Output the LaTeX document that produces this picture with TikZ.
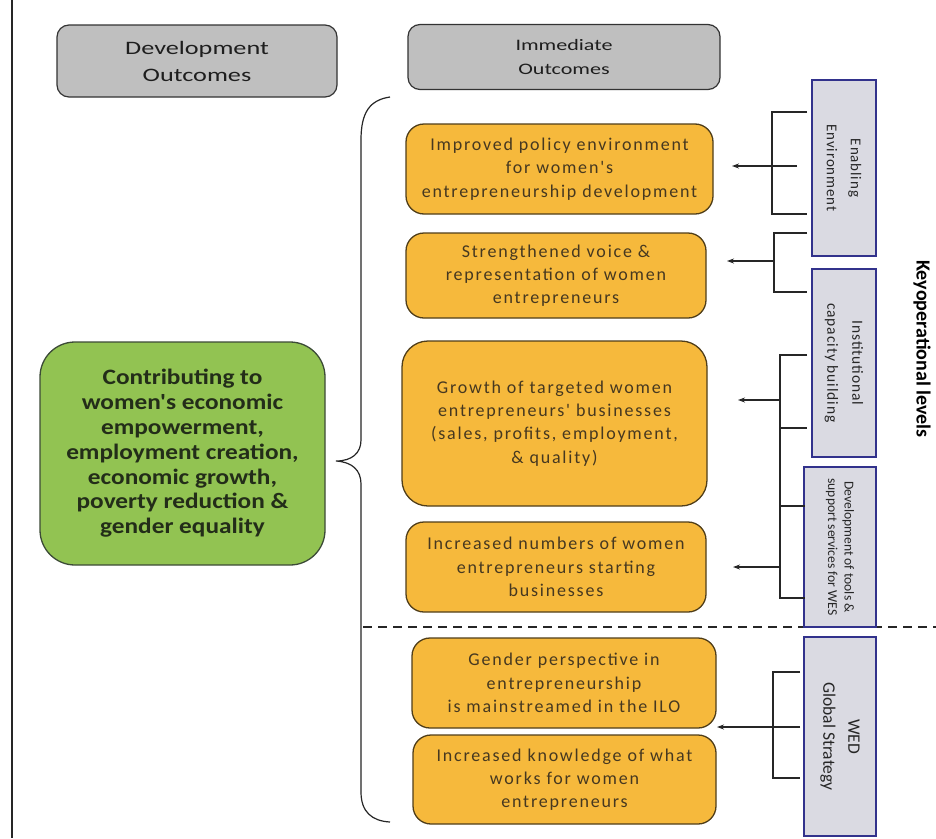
\documentclass[tikz,border=0pt]{standalone}
\usepackage{fontspec}
\setmainfont{Carlito}
\newfontfamily\hdrf[FakeStretch=1.38]{Carlito}
\newfontfamily\ofont[LetterSpace=10]{Carlito}
\newfontfamily\bfont[LetterSpace=6]{Carlito}
\newfontfamily\gfont[FakeStretch=1.15]{Carlito}
\usetikzlibrary{arrows.meta}
\definecolor{ofill}{RGB}{246,185,60}
\definecolor{odraw}{RGB}{80,62,25}
\definecolor{otext}{RGB}{70,56,32}
\definecolor{gfill}{RGB}{146,195,82}
\definecolor{gdraw}{RGB}{60,75,55}
\definecolor{gtext}{RGB}{35,45,25}
\definecolor{bfill}{RGB}{218,218,226}
\definecolor{bdraw}{RGB}{50,50,140}
\definecolor{htext}{RGB}{30,30,30}
\begin{document}
\begin{tikzpicture}[x=1pt,y=-1pt,
  hdr/.style={draw=black!80, line width=1.2pt, fill=gray!50, rounded corners=12pt, inner sep=0pt, align=center, text=htext},
  obox/.style={draw=odraw, line width=1.3pt, fill=ofill, rounded corners=18pt, inner sep=0pt, align=center, text=otext, font=\ofont\fontsize{18}{23.3}\selectfont},
  gbox/.style={draw=gdraw, line width=1.3pt, fill=gfill, rounded corners=35pt, inner sep=0pt, align=center, text=gtext, font=\gfont\bfseries\fontsize{22}{24.8}\selectfont},
  bbox/.style={draw=bdraw, line width=1.3pt, fill=bfill, inner sep=0pt},
  btext/.style={rotate=-90, align=center, text=black!85, inner sep=0pt},
  link/.style={line width=1.2pt, black!85},
  arr/.style={link, -{Stealth[length=7pt,width=5pt]}}
]
\useasboundingbox (0,0) rectangle (936,838);
\fill[white] (0,0) rectangle (936,838);

% left rule
\coordinate (lt) at (12,0);
\coordinate (lb) at (12,838);
\draw[link] (lt) -- (lb);

% dashed divider
\coordinate (d1) at (363,627);
\coordinate (d2) at (936,627);
\draw[link, dash pattern=on 9pt off 6pt] (d1) -- (d2);

% headers
\node[hdr, minimum width=280pt, minimum height=72pt, font=\hdrf\fontsize{19}{27}\selectfont] (dev) at (197,61) {Development\\Outcomes};
\node[hdr, minimum width=312pt, minimum height=65pt, font=\hdrf\fontsize{16}{24}\selectfont] (imm) at (564,57) {Immediate\\Outcomes};

% green box
\node[gbox, minimum width=285pt, minimum height=223pt] (green) at (182.5,453.5)
  {Contributing to\\women's economic\\empowerment,\\employment creation,\\economic growth,\\poverty reduction \&\\gender equality};

% brace
\draw[link] (390,97) .. controls (370,100) and (361,112) .. (361,140) -- (361,440)
  .. controls (361,453) and (352,461) .. (336,461)
  .. controls (352,462) and (361,470) .. (361,484) -- (361,792)
  .. controls (361,812) and (372,821) .. (390,822);

% orange boxes
\node[obox, minimum width=307pt, minimum height=90pt] (o1) at (559.5,169)
  {Improved policy environment\\for women's\\entrepreneurship development};
\node[obox, minimum width=300pt, minimum height=85pt] (o2) at (556,275.5)
  {Strengthened voice \&\\representation of women\\entrepreneurs};
\node[obox, rounded corners=26pt, minimum width=305pt, minimum height=165pt] (o3) at (554.5,423.5)
  {Growth of targeted women\\entrepreneurs' businesses\\(sales, profits, employment,\\\& quality)};
\node[obox, minimum width=300pt, minimum height=90pt] (o4) at (556,567)
  {Increased numbers of women\\entrepreneurs starting\\businesses};
\node[obox, minimum width=304pt, minimum height=90pt] (o5) at (564,683)
  {Gender perspective in\\entrepreneurship\\is mainstreamed in the ILO};
\node[obox, minimum width=303pt, minimum height=89pt] (o6) at (564.5,779.5)
  {Increased knowledge of what\\works for women\\entrepreneurs};

% blue boxes
\node[bbox, minimum width=64pt, minimum height=176pt] (ee) at (844,168) {};
\node[btext, font=\bfont\fontsize{15}{24}\selectfont] at (ee.center) {Enabling\\Environment};
\node[bbox, minimum width=64pt, minimum height=188pt] (ic) at (844,363) {};
\node[btext, font=\bfont\fontsize{15.5}{25}\selectfont] at (ic.center) {Institutional\\capacity building};
\node[bbox, minimum width=72pt, minimum height=160pt] (dt) at (840,547) {};
\node[btext, font=\fontsize{13.6}{16.5}\selectfont] at (dt.center) {Development of tools \&\\support services for WES};
\node[bbox, minimum width=72pt, minimum height=199pt] (wed) at (840,736.5) {};
\node[btext, font=\fontsize{17.5}{25}\selectfont] at (wed.center) {WED\\Global Strategy};

% key operational levels
\node[btext, font=\bfseries\fontsize{20}{24}\selectfont, text=black] (key) at (922,349) {Keyoperational levels};

% bracket 1 (Enabling Environment)
\coordinate (b1t) at (772,112);
\coordinate (b1b) at (772,214);
\coordinate (b1m) at (797,166);
\coordinate (a1) at (732,166);
\draw[link] (807,112) -- (b1t) -- (b1b) -- (807,214);
\draw[arr] (b1m) -- (a1);

% bracket 2
\coordinate (b2t) at (774,233);
\coordinate (b2b) at (774,292);
\coordinate (b2m) at (774,261);
\coordinate (a2) at (727,261);
\draw[link] (807,233) -- (b2t) -- (b2b) -- (807,292);
\draw[arr] (b2m) -- (a2);

% bracket 3
\coordinate (b3t) at (780,355);
\coordinate (b3b) at (780,598);
\draw[link] (807,355) -- (b3t) -- (b3b) -- (805,598);
\draw[link] (780,428) -- (807,428);
\draw[link] (780,506) -- (805,506);
\coordinate (b3m1) at (780,400);
\coordinate (a3) at (738,400);
\coordinate (b3m2) at (780,567);
\coordinate (a4) at (733,567);
\draw[arr] (b3m1) -- (a3);
\draw[arr] (b3m2) -- (a4);

% bracket 4 (WED)
\coordinate (b4t) at (773,672);
\coordinate (b4b) at (773,778);
\coordinate (b4m) at (800,727);
\coordinate (a5) at (717,727);
\draw[link] (800,672) -- (b4t) -- (b4b) -- (800,778);
\draw[arr] (b4m) -- (a5);
\end{tikzpicture}
\end{document}
